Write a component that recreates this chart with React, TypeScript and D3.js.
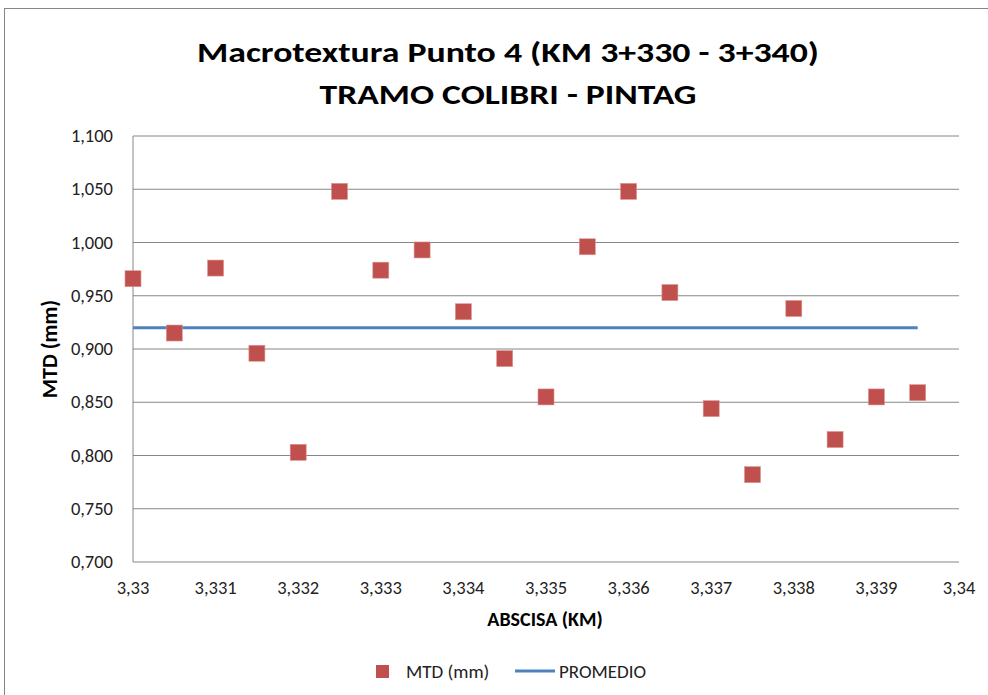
import React from "react";
import * as d3 from "d3";

// abscisa (km) of every reading
const abscisa = [
  3.33, 3.3305, 3.331, 3.3315, 3.332, 3.3325, 3.333, 3.3335, 3.334, 3.3345,
  3.335, 3.3355, 3.336, 3.3365, 3.337, 3.3375, 3.338, 3.3385, 3.339, 3.3395,
];
// MTD (mm)
const mtd = [
  0.966, 0.915, 0.976, 0.896, 0.803, 1.048, 0.974, 0.993, 0.935, 0.891,
  0.855, 0.996, 1.048, 0.953, 0.844, 0.782, 0.938, 0.815, 0.855, 0.859,
];
const promedio = 0.92;
const xTicks = [3.33, 3.331, 3.332, 3.333, 3.334, 3.335, 3.336, 3.337, 3.338, 3.339, 3.34];
const yTicks = [0.7, 0.75, 0.8, 0.85, 0.9, 0.95, 1.0, 1.05, 1.1];

const W = 988;
const H = 695;
const margin = { top: 136, right: 29, bottom: 133, left: 133 };
const font = "Carlito, 'Liberation Sans', Arial, sans-serif";

const App = () => {
  const x = d3
    .scaleLinear()
    .domain([3.33, 3.34])
    .range([margin.left, W - margin.right]);
  const y = d3
    .scaleLinear()
    .domain([0.7, 1.1])
    .range([H - margin.bottom, margin.top]);

  const fmtX = (v: number) => String(+v.toFixed(3)).replace(".", ",");
  const fmtY = (v: number) => v.toFixed(3).replace(".", ",");

  const line = d3
    .line<number>()
    .x((d) => x(d))
    .y(() => y(promedio));

  const pts = abscisa.map((a, i) => ({ a, v: mtd[i] }));

  return (
    <svg
      width={W}
      height={H}
      style={{ position: "absolute", left: 0, top: 0, background: "#fff" }}
      fontFamily={font}
    >
      <rect x={4.5} y={8.5} width={W + 10} height={H + 10} fill="#fff" stroke="#868686" />

      <text x={508} y={62} textAnchor="middle" fontSize={28.5} fontWeight="bold" textLength={622} lengthAdjust="spacingAndGlyphs">
        Macrotextura Punto 4 (KM 3+330 - 3+340)
      </text>
      <text x={508} y={104} textAnchor="middle" fontSize={28.5} fontWeight="bold" textLength={377} lengthAdjust="spacingAndGlyphs">
        TRAMO COLIBRI - PINTAG
      </text>

      {yTicks.map((t) => (
        <g key={t}>
          <line x1={margin.left} x2={W - margin.right} y1={y(t)} y2={y(t)} stroke="#868686" strokeWidth={1} />
          <text x={113} y={y(t) + 6} textAnchor="end" fontSize={18.5} fill="#222">
            {fmtY(t)}
          </text>
        </g>
      ))}
      <line x1={margin.left} x2={margin.left} y1={margin.top} y2={y(0.7)} stroke="#868686" />

      {xTicks.map((t) => (
        <text key={t} x={x(t)} y={594} textAnchor="middle" fontSize={18.5} fill="#222">
          {fmtX(t)}
        </text>
      ))}

      <text x={545} y={626} textAnchor="middle" fontSize={20} fontWeight="bold">
        ABSCISA (KM)
      </text>
      <text
        transform={`translate(57,349) rotate(-90)`}
        textAnchor="middle"
        fontSize={22}
        fontWeight="bold"
      >
        MTD (mm)
      </text>

      <path
        d={line([3.33, 3.3395]) || ""}
        fill="none"
        stroke="#4F81BD"
        strokeWidth={3}
      />

      {pts.map((p, i) => (
        <rect
          key={i}
          x={x(p.a) - 8}
          y={y(p.v) - 8}
          width={16}
          height={16}
          fill="#C0504D"
          stroke="#D99694"
          strokeWidth={0.6}
        />
      ))}

      <rect x={376} y={665} width={13} height={13} fill="#C0504D" />
      <text x={406} y={678} fontSize={19} fill="#222">MTD (mm)</text>
      <line x1={515} x2={555} y1={671} y2={671} stroke="#4F81BD" strokeWidth={3} />
      <text x={559} y={678} fontSize={19} fill="#222">PROMEDIO</text>
    </svg>
  );
};

export default App;
